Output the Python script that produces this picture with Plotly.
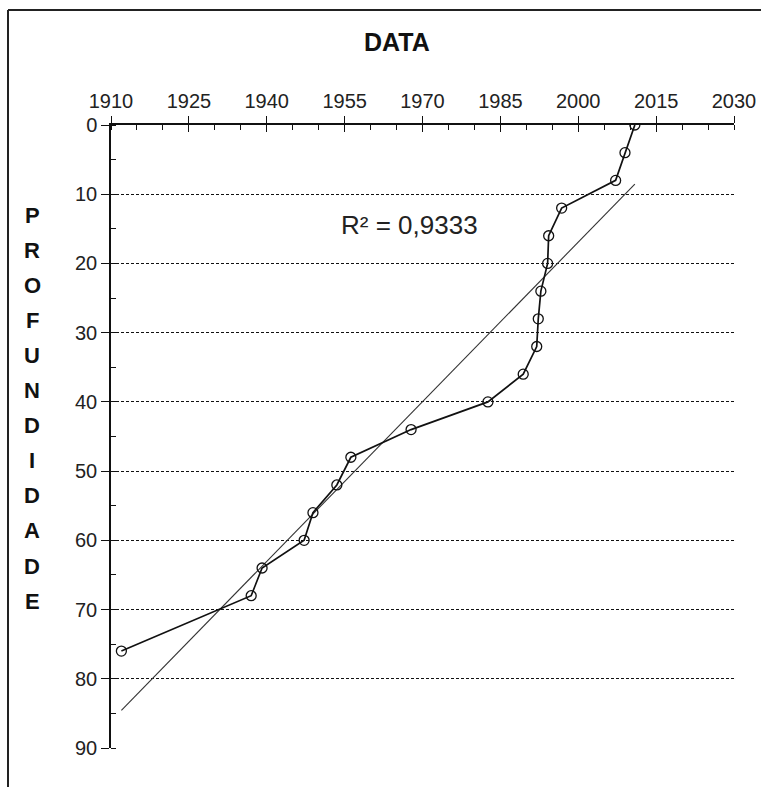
import numpy as np
import plotly.graph_objects as go

# Data: year (x) vs depth (y)
years = [2010.9, 2009.0, 2007.2, 1996.8, 1994.3, 1994.1, 1992.8, 1992.3, 1992.0,
         1989.4, 1982.6, 1967.8, 1956.2, 1953.5, 1948.9, 1947.2, 1939.1, 1937.0, 1912.0]
depths = [0, 4, 8, 12, 16, 20, 24, 28, 32, 36, 40, 44, 48, 52, 56, 60, 64, 68, 76]
r2_text = "R² = 0,9333"
title_text = "DATA"
ytitle_text = "PROFUNDIDADE"
x_ticks = [1910, 1925, 1940, 1955, 1970, 1985, 2000, 2015, 2030]
y_ticks = [0, 10, 20, 30, 40, 50, 60, 70, 80, 90]

# linear trendline (depth as a function of year)
slope, intercept = np.polyfit(years, depths, 1)
tx = [min(years), max(years)]
ty = [slope * v + intercept for v in tx]

W, H = 761, 787
L, R, T, B = 111, 27, 125, 39
pw, ph = W - L - R, H - T - B

def px2paper_x(p):
    return (p - L) / pw

def px2paper_y(p):
    return (H - B - p) / ph

fig = go.Figure()
fig.add_trace(go.Scatter(x=tx, y=ty, mode="lines",
                         line=dict(color="#333333", width=1.1), hoverinfo="skip",
                         showlegend=False))
fig.add_trace(go.Scatter(x=years, y=depths, mode="lines+markers",
                         line=dict(color="#111111", width=1.7),
                         marker=dict(symbol="circle-open", size=10,
                                     line=dict(color="#111111", width=1.3)),
                         showlegend=False))
# dummy trace for overlay axis (inner half of crossing major ticks)
fig.add_trace(go.Scatter(x=[2000], y=[50], xaxis="x2", mode="markers",
                         marker=dict(opacity=0), hoverinfo="skip", showlegend=False))

tickfont = dict(family="Liberation Sans, Arial, sans-serif", size=20, color="#222222")

fig.update_layout(
    width=W, height=H, autosize=False,
    margin=dict(l=L, r=R, t=T, b=B, pad=0, autoexpand=False),
    paper_bgcolor="white", plot_bgcolor="white",
    xaxis=dict(range=[1910, 2030], side="top", tickmode="array", tickvals=x_ticks,
               ticktext=[str(v) for v in x_ticks], automargin=False,
               ticks="outside", ticklen=7, tickwidth=1.2, tickcolor="#111111",
               showline=True, linecolor="#111111", linewidth=1.5,
               showgrid=False, zeroline=False, tickfont=tickfont,
               minor=dict(ticks="inside", dtick=5, tick0=1910, ticklen=5,
                          tickwidth=1.2, tickcolor="#111111", showgrid=False)),
    xaxis2=dict(range=[1910, 2030], overlaying="x", side="top", anchor="y",
                tickmode="array", tickvals=x_ticks, ticks="inside", ticklen=7,
                tickwidth=1.2, tickcolor="#111111", showticklabels=False,
                showline=False, showgrid=False, zeroline=False, automargin=False),
    yaxis=dict(range=[90, 0], tickmode="array", tickvals=y_ticks,
               ticktext=[str(v) for v in y_ticks], automargin=False,
               ticks="outside", ticklen=8, tickwidth=1.2, tickcolor="#111111",
               showline=True, linecolor="#111111", linewidth=1.5,
               showgrid=True, gridcolor="#111111", gridwidth=1, griddash="3px,2px",
               zeroline=False, tickfont=tickfont,
               minor=dict(ticks="inside", dtick=5, tick0=0, ticklen=5,
                          tickwidth=1.2, tickcolor="#111111", showgrid=False)),
)

annotations = [
    dict(text=title_text, x=px2paper_x(397), y=px2paper_y(42), xref="paper", yref="paper",
         xanchor="center", yanchor="middle", showarrow=False,
         font=dict(family="Liberation Sans, Arial, sans-serif", size=25, color="#111111",
                   weight="bold")),
    dict(text=r2_text, x=1967.4, y=14.4, xref="x", yref="y",
         xanchor="center", yanchor="middle", showarrow=False,
         font=dict(family="Liberation Sans, Arial, sans-serif", size=26, color="#222222")),
]
for i, ch in enumerate(ytitle_text):
    annotations.append(dict(text=ch, x=px2paper_x(32), y=px2paper_y(215 + i * 35.1),
                            xref="paper", yref="paper", xanchor="center", yanchor="middle",
                            showarrow=False,
                            font=dict(family="Liberation Sans, Arial, sans-serif", size=22,
                                      color="#111111", weight="bold")))
fig.update_layout(annotations=annotations)

# chart area border (top and left visible)
fig.add_shape(type="line", xref="paper", yref="paper",
              x0=px2paper_x(8), x1=px2paper_x(W),
              y0=px2paper_y(10), y1=px2paper_y(10),
              line=dict(color="#222222", width=2), layer="above")
fig.add_shape(type="line", xref="paper", yref="paper",
              x0=px2paper_x(8), x1=px2paper_x(8),
              y0=px2paper_y(H), y1=px2paper_y(10),
              line=dict(color="#222222", width=2), layer="above")

fig.write_html("out.html")
